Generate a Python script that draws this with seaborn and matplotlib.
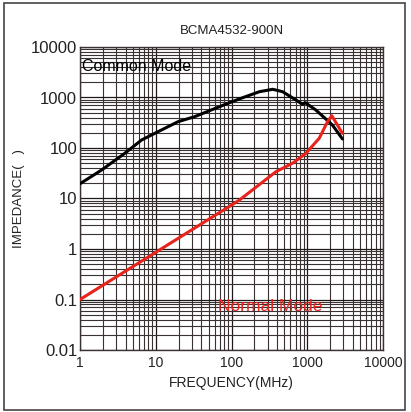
import numpy as np
import pandas as pd
import seaborn as sns
import matplotlib.pyplot as plt
from matplotlib.ticker import LogLocator, FixedFormatter, FixedLocator, NullFormatter
from matplotlib.patches import Rectangle

# Common mode impedance
cm_freq = [1, 1.93, 3.9, 6.5, 10.7, 19.7, 32.6, 56.8, 85, 141, 234, 350,
           473, 710, 867, 941, 1300, 2150, 2915]
cm_imp = [19.6, 36.7, 78.5, 144, 210, 332, 417, 583, 743, 993, 1303, 1453,
          1303, 891, 733, 790, 565, 285, 151]

# Normal mode impedance
nm_freq = [1, 10, 100, 127, 387, 641, 960, 1440, 1850, 2110, 2915]
nm_imp = [0.1, 0.86, 7.4, 9.3, 34, 50, 78.5, 156, 331, 436, 195]

x_ticks = [1, 10, 100, 1000, 10000]
x_labels = ["1", "10", "100", "1000", "10000"]
y_ticks = [0.01, 0.1, 1, 10, 100, 1000, 10000]
y_labels = ["0.01", "0.1", "1", "10", "100", "1000", "10000"]

sns.set_style("white")
plt.rcParams['font.family'] = ['Liberation Sans', 'DejaVu Sans']

fig = plt.figure(figsize=(4.11, 4.12), dpi=100)
ax = fig.add_axes([80 / 411, 1 - 350 / 412, (383 - 80) / 411, (350 - 47) / 412])

cm = pd.DataFrame({"freq": cm_freq, "imp": cm_imp})
nm = pd.DataFrame({"freq": nm_freq, "imp": nm_imp})
sns.lineplot(data=cm, x="freq", y="imp", color="black", linewidth=2.2, ax=ax, zorder=5)
sns.lineplot(data=nm, x="freq", y="imp", color="#e8231c", linewidth=2.2, ax=ax, zorder=5)

ax.set_xscale("log")
ax.set_yscale("log")
ax.set_xlim(1, 10000)
ax.set_ylim(0.01, 10000)

ax.xaxis.set_major_locator(FixedLocator(x_ticks))
ax.xaxis.set_major_formatter(FixedFormatter(x_labels))
ax.yaxis.set_major_locator(FixedLocator(y_ticks))
ax.yaxis.set_major_formatter(FixedFormatter(y_labels))
ax.xaxis.set_minor_locator(LogLocator(base=10, subs=np.arange(2, 10), numticks=20))
ax.yaxis.set_minor_locator(LogLocator(base=10, subs=np.arange(2, 10), numticks=20))
ax.xaxis.set_minor_formatter(NullFormatter())
ax.yaxis.set_minor_formatter(NullFormatter())

ax.grid(which="major", color="#1e1818", linewidth=0.9)
ax.grid(which="minor", color="#3a3232", linewidth=0.8)
ax.tick_params(axis="both", which="both", length=0)
ax.tick_params(axis="y", labelsize=12, pad=2, colors="#222222")
ax.tick_params(axis="x", labelsize=10, pad=4, colors="#222222")
for s in ax.spines.values():
    s.set_color("#3a3232")
    s.set_linewidth(1.0)

ax.set_xlabel("FREQUENCY(MHz)", fontsize=10, color="#222222", labelpad=5)
ax.set_ylabel("IMPEDANCE(   )", fontsize=9.5, color="#222222", labelpad=4)
ax.set_title("BCMA4532-900N", fontsize=9.5, color="#222222", pad=9)

ax.text(0.007, 0.935, "Common Mode", transform=ax.transAxes, fontsize=11.5,
        color="black", va="center", ha="left", zorder=6)
ax.text(0.455, 0.145, "Normal Mode", transform=ax.transAxes, fontsize=12.5,
        color="#e8231c", va="center", ha="left", zorder=6)

fig.patches.append(Rectangle((4 / 411, 2 / 412), 401 / 411, 407 / 412,
                             transform=fig.transFigure, fill=False,
                             edgecolor="#444444", linewidth=1.2))

fig.savefig("out.png", dpi=100)
